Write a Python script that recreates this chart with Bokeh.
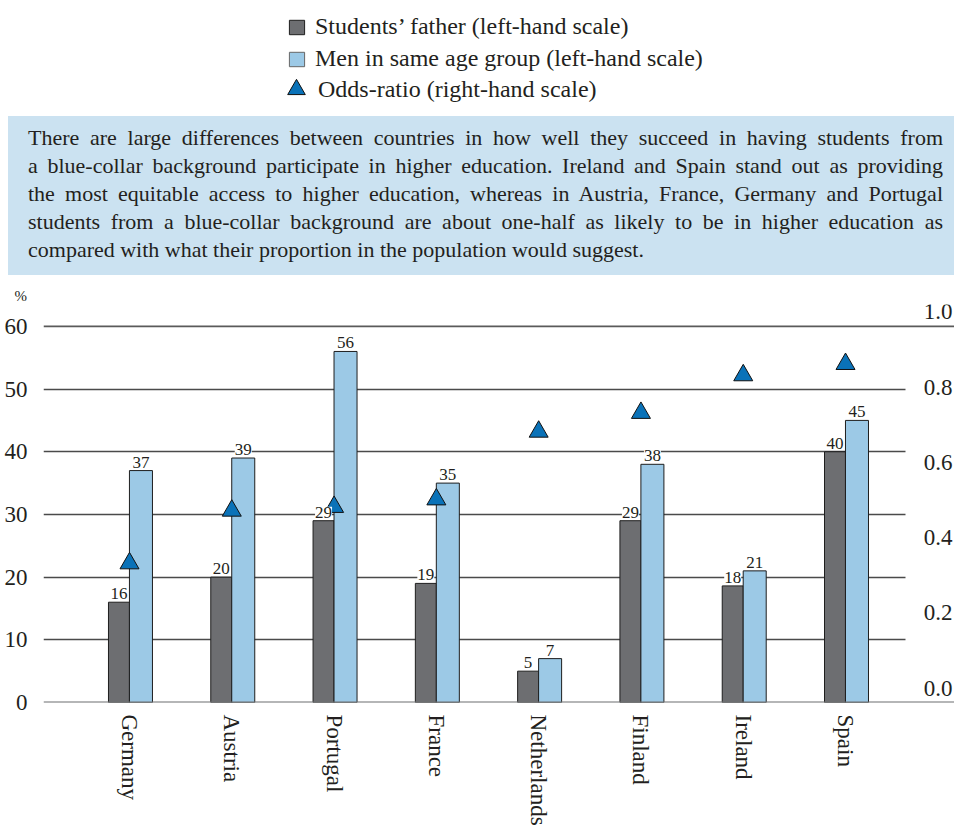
from bokeh.plotting import figure
from bokeh.models import (ColumnDataSource, Range1d, FixedTicker, Span, LabelSet,
                          Legend, LegendItem, Div, Title)
from bokeh.layouts import column
from bokeh.transform import dodge
from bokeh.core.properties import value
from bokeh.embed import file_html
from bokeh.resources import INLINE

# ---------------- data ----------------
countries = ["Germany", "Austria", "Portugal", "France", "Netherlands", "Finland", "Ireland", "Spain"]
father = [16, 20, 29, 19, 5, 29, 18.6, 40]
father_labels = ["16", "20", "29", "19", "5", "29", "18", "40"]
men = [37, 39, 56, 35, 7, 38, 21, 45]
men_labels = ["37", "39", "56", "35", "7", "38", "21", "45"]
odds = [0.37, 0.51, 0.52, 0.54, 0.72, 0.77, 0.87, 0.90]

left_ticks = [0, 10, 20, 30, 40, 50, 60]
inner_grid = [10, 20, 30, 40, 50]
right_ticks = [0.0, 0.2, 0.4, 0.6, 0.8, 1.0]
right_tick_labels = ["0.0", "0.2", "0.4", "0.6", "0.8", "1.0"]

legend_labels = [
    "Students\u2019 father (left-hand scale)",
    "Men in same age group (left-hand scale)",
    "Odds-ratio (right-hand scale)",
]
note_lines = [
    "There are large differences between countries in how well they succeed in having students from",
    "a blue-collar background participate in higher education. Ireland and Spain stand out as providing",
    "the most equitable access to higher education, whereas in Austria, France, Germany and Portugal",
    "students from a blue-collar background are about one-half as likely to be in higher education as",
    "compared with what their proportion in the population would suggest.",
]

# ---------------- style / layout ----------------
FONT = "Liberation Serif"
TXT = "#231f20"
DARK = "#6d6e71"
LIGHT = "#9cc9e6"
TRI = "#0a72b8"
BOX = "#cbe2f1"
GRID = "#4a4a4a"

W = 954
LEG_H = 108
NOTE_TOP, NOTE_H = 116, 159
CHART_TOP = NOTE_TOP + NOTE_H          # page y where chart figure starts
CHART_H = 828 - CHART_TOP
FRAME_L, FRAME_R = 43, 954
FRAME_T, FRAME_B = 304, 704
GROUP0, GROUP_STEP = 129, 102.29
PX_PER_UNIT = 6.3


def dx(page_x):
    return (page_x - GROUP0) / GROUP_STEP


def dy(page_y):
    return (FRAME_B - page_y) / PX_PER_UNIT


# ---------------- chart ----------------
p = figure(width=W, height=CHART_H, x_range=Range1d(dx(FRAME_L), dx(FRAME_R)),
           y_range=Range1d(0, dy(FRAME_T)),
           output_backend="svg", toolbar_location=None,
           min_border_left=FRAME_L, min_border_right=W - FRAME_R,
           min_border_top=FRAME_T - CHART_TOP, min_border_bottom=828 - FRAME_B)
p.outline_line_color = None
p.extra_y_ranges = {"odds": Range1d(0, dy(FRAME_T) / 60)}
p.title = Title(text="%", align="left", offset=-29, standoff=1,
                text_font=FONT, text_font_size="15px", text_font_style="normal",
                text_color=TXT)

src = ColumnDataSource(dict(
    x=list(range(len(countries))), father=father, men=men, odds=odds,
    fl=father_labels, ml=men_labels))

# grid
p.xgrid.visible = False
p.ygrid.ticker = FixedTicker(ticks=inner_grid)
p.ygrid.cross_bounds = (dx(FRAME_L), dx(905))
p.ygrid.grid_line_color = GRID
p.ygrid.grid_line_width = 1.3
p.add_layout(Span(location=60, dimension="width", line_color="#5a5a5a", line_width=1.6))

# bars
bar_father = dict(fill_color=DARK, line_color="#1e1e1e", line_width=1)
tri_style = dict(marker="triangle", size=19, fill_color=TRI, line_color="#111111", line_width=1)

p.vbar(x=dodge("x", -0.103), top="father", bottom=0, width=0.205, source=src, **bar_father)
p.vbar(x=dodge("x", 0.112), top="men", bottom=0, width=0.225, source=src,
       fill_color=LIGHT, line_color="#1e1e1e", line_width=1)
p.add_layout(Span(location=0, dimension="width", line_color="#6d6e71", line_width=2))

# value labels
p.add_layout(LabelSet(x=dodge("x", -0.103), y="father", text="fl", source=src, y_offset=3,
                      text_font=value(FONT), text_font_size="17px", text_color=TXT,
                      text_align="center", text_baseline="bottom",
                      background_fill_color="white"))
p.add_layout(LabelSet(x=dodge("x", 0.112), y="men", text="ml", source=src, y_offset=3,
                      text_font=value(FONT), text_font_size="17px", text_color=TXT,
                      text_align="center", text_baseline="bottom",
                      background_fill_color="white"))

# odds-ratio triangles
p.scatter(x="x", y="odds", source=src, y_range_name="odds", **tri_style)

# left axis
p.yaxis.ticker = FixedTicker(ticks=left_ticks)
p.yaxis.axis_line_color = None
p.yaxis.major_tick_line_color = None
p.yaxis.minor_tick_line_color = None
p.yaxis.major_label_standoff = 10
p.yaxis.major_label_text_font = FONT
p.yaxis.major_label_text_font_size = "23px"
p.yaxis.major_label_text_color = TXT

# bottom axis
p.xaxis.ticker = FixedTicker(ticks=list(range(len(countries))))
p.xaxis.major_label_overrides = {i: c for i, c in enumerate(countries)}
p.xaxis.major_label_orientation = "vertical"
p.xaxis.axis_line_color = None
p.xaxis.major_tick_line_color = None
p.xaxis.minor_tick_line_color = None
p.xaxis.major_label_standoff = 6
p.xaxis.major_label_text_font = FONT
p.xaxis.major_label_text_font_size = "23px"
p.xaxis.major_label_text_color = TXT

# right-hand scale labels
rsrc = ColumnDataSource(dict(x=[dx(952)] * len(right_ticks), v=right_ticks, t=right_tick_labels))
p.add_layout(LabelSet(x="x", y="v", y_range_name="odds", text="t",
                      source=rsrc, text_align="right", text_baseline="bottom", y_offset=7,
                      text_font=value(FONT), text_font_size="23px", text_color=TXT))

# ---------------- legend (own strip above the note) ----------------
# same data and styles as the chart; the ranges keep the marks themselves out of view
lf = figure(width=W, height=LEG_H, x_range=Range1d(100, 101), y_range=Range1d(100, 101),
            output_backend="svg", toolbar_location=None,
            x_axis_type=None, y_axis_type=None,
            min_border_left=FRAME_L, min_border_right=0, min_border_top=0, min_border_bottom=0)
lf.grid.visible = False
lf.outline_line_color = None
g1 = lf.vbar(x="x", top="father", width=0.2, source=src, **bar_father)
g2 = lf.vbar(x="x", top="men", width=0.2, source=src,
             fill_color=LIGHT, line_color="#666666", line_width=1)
g3 = lf.scatter(x="x", y="odds", source=src, **tri_style)

leg_common = dict(orientation="vertical", border_line_color=None, background_fill_alpha=0,
                  padding=0, margin=0, label_height=29,
                  label_text_font=FONT, label_text_font_size="24px", label_text_color=TXT)
legend_bars = Legend(items=[LegendItem(label=legend_labels[0], renderers=[g1], index=0),
                            LegendItem(label=legend_labels[1], renderers=[g2], index=0)],
                     location=(287 - FRAME_L, 35), spacing=3, glyph_width=19, glyph_height=18,
                     label_standoff=9, **leg_common)
legend_tri = Legend(items=[LegendItem(label=legend_labels[2], renderers=[g3], index=0)],
                    location=(274 - FRAME_L, -5), glyph_width=44, glyph_height=48,
                    label_standoff=0, **leg_common)
lf.add_layout(legend_bars)
lf.add_layout(legend_tri)

# ---------------- note box ----------------
rows = []
for i, line in enumerate(note_lines):
    al = "left" if i == len(note_lines) - 1 else "justify"
    rows.append(f'<div style="white-space:nowrap;text-align:{al};text-align-last:{al};">{line}</div>')
html = (f'<div style="box-sizing:border-box;width:{W - 8}px;height:{NOTE_H}px;background:{BOX};'
        f'padding:8px 11px 0 20px;font-family:\'Liberation Serif\',serif;font-size:22px;'
        f'line-height:28px;color:{TXT};">' + "".join(rows) + '</div>')
note = Div(text=html, width=W - 8, height=NOTE_H, margin=(NOTE_TOP - LEG_H, 0, 0, 8))

layout = column(lf, note, p, spacing=0)
open("out.html", "w").write(file_html(layout, INLINE))
